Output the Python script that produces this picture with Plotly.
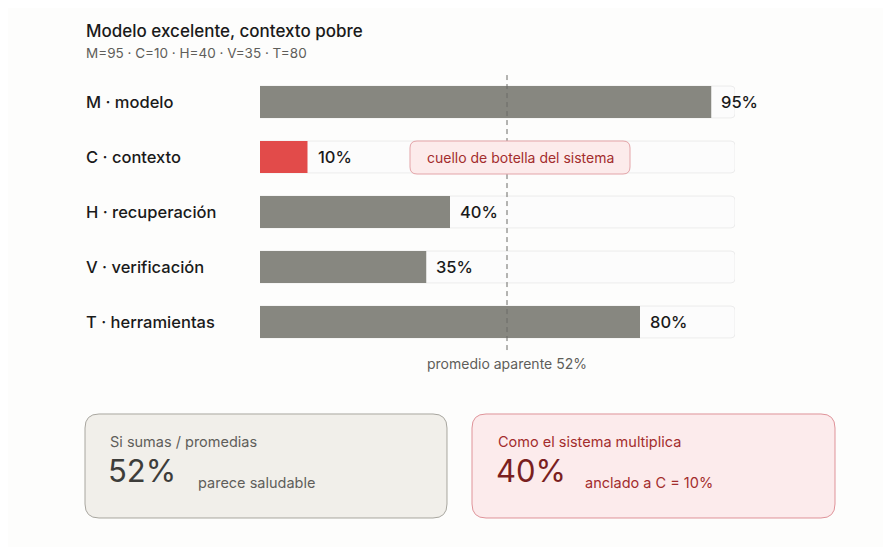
import plotly.graph_objects as go

# datos
labels = ["M · modelo", "C · contexto", "H · recuperación", "V · verificación", "T · herramientas"]
codes = ["M", "C", "H", "V", "T"]
values = [95, 10, 40, 35, 80]
bar_colors = ["#878780", "#e24b4a", "#878780", "#878780", "#878780"]
track_max = [100, 100, 100, 100, 100]

avg = sum(values) / len(values)  # 52
weakest = min(values)            # 10
multiplied = 40

OFF = 8                  # page body margin
W, H = 891 - 2 * OFF, 555 - 2 * OFF
L, R = 260 - OFF, 735 - OFF      # pixel extent of x axis (figure coords)
T, B = 47 - OFF, 377 - OFF       # pixel extent of y axis


def px_x(px):
    # px in screenshot coords -> paper
    return (px - OFF - L) / (R - L)


def px_y(py):
    return (B - (py - OFF)) / (B - T)


def rounded_rect(x0, y0, x1, y1, r):
    # pixel box -> svg path in paper coords
    def p(x, y):
        return f"{px_x(x):.5f},{px_y(y):.5f}"
    return (f"M{p(x0 + r, y0)} L{p(x1 - r, y0)} Q{p(x1, y0)} {p(x1, y0 + r)} "
            f"L{p(x1, y1 - r)} Q{p(x1, y1)} {p(x1 - r, y1)} "
            f"L{p(x0 + r, y1)} Q{p(x0, y1)} {p(x0, y1 - r)} "
            f"L{p(x0, y0 + r)} Q{p(x0, y0)} {p(x0 + r, y0)} Z")


FONT = "Inter, 'Open Sans', sans-serif"

fig = go.Figure()

# pistas de fondo
fig.add_trace(go.Bar(
    x=track_max, y=labels, orientation="h", width=0.58,
    marker=dict(color="#fcfcfc", line=dict(color="#ececec", width=1), cornerradius=4),
    hoverinfo="skip", showlegend=False
))

fig.add_trace(go.Bar(
    x=values, y=labels, orientation="h", width=0.58,
    marker=dict(color=bar_colors, line=dict(width=0), cornerradius=4),
    showlegend=False
))

fig.update_layout(
    width=W, height=H,
    barmode="overlay",
    margin=dict(l=L, r=W - R, t=T, b=H - B, pad=0),
    paper_bgcolor="#fdfdfc",
    plot_bgcolor="rgba(0,0,0,0)",
    font=dict(family=FONT, color="#1a1a1a"),
    xaxis=dict(range=[0, 100], visible=False, fixedrange=True),
    yaxis=dict(range=[5, -1], visible=False, fixedrange=True),
)

annotations = []

# titulo
annotations.append(dict(
    text="Modelo excelente, contexto pobre", xref="paper", yref="paper",
    x=px_x(84), y=px_y(31), xanchor="left", yanchor="middle", showarrow=False,
    font=dict(size=17, color="#1a1a1a", weight=500)
))
annotations.append(dict(
    text="·".join(f"{c}={v}" for c, v in zip(codes, values)).replace("·", " · "),
    xref="paper", yref="paper",
    x=px_x(84), y=px_y(53), xanchor="left", yanchor="middle", showarrow=False,
    font=dict(size=13.5, color="#5f5e5a")
))

# etiquetas de fila y valores
for i, (lab, v) in enumerate(zip(labels, values)):
    annotations.append(dict(
        text=lab, xref="paper", yref="y", x=px_x(84), y=i,
        xanchor="left", yanchor="middle", showarrow=False,
        font=dict(size=16.5, color="#1a1a1a", weight=500)
    ))
    annotations.append(dict(
        text=f"{v}%", xref="x", yref="y", x=v, y=i, xshift=8,
        xanchor="left", yanchor="middle", showarrow=False,
        font=dict(size=16.5, color="#1a1a1a", weight=500)
    ))

# linea promedio
fig.add_shape(type="line", xref="x", yref="y", x0=avg, x1=avg, y0=-0.49, y1=4.55,
              line=dict(color="#6b6b66", width=1, dash="5px,4px"))
annotations.append(dict(
    text=f"promedio aparente {avg:.0f}%", xref="x", yref="y", x=avg, y=4.76,
    xanchor="center", yanchor="middle", showarrow=False,
    font=dict(size=14, color="#5f5e5a")
))

# cuello de botella
fig.add_shape(type="path", xref="paper", yref="paper",
              path=rounded_rect(410, 141, 630, 174, 7),
              fillcolor="#fcebeb", line=dict(color="#e3a4a8", width=1), layer="above")
annotations.append(dict(
    text="cuello de botella del sistema", xref="paper", yref="paper",
    x=px_x(520), y=px_y(157.5), xanchor="center", yanchor="middle", showarrow=False,
    font=dict(size=14, color="#a32d2d")
))

# tarjetas inferiores
fig.add_shape(type="path", xref="paper", yref="paper",
              path=rounded_rect(85, 414, 447, 518, 14),
              fillcolor="#f1efea", line=dict(color="#a8a69f", width=1))
fig.add_shape(type="path", xref="paper", yref="paper",
              path=rounded_rect(472, 414, 835, 518, 14),
              fillcolor="#fcebec", line=dict(color="#df9399", width=1))

cards = [
    (108, 196, "Si sumas / promedias", f"{avg:.0f}%", "parece saludable",
     "#5f5e5a", "#3d3d3a"),
    (496, 583, "Como el sistema multiplica", f"{multiplied}%", f"anclado a C = {weakest}%",
     "#a32d2d", "#7a1f1f"),
]
for x0, xs, head, big, note, c1, c2 in cards:
    annotations.append(dict(
        text=head, xref="paper", yref="paper", x=px_x(x0), y=px_y(441),
        xanchor="left", yanchor="middle", showarrow=False, font=dict(size=14.5, color=c1)
    ))
    annotations.append(dict(
        text=big, xref="paper", yref="paper", x=px_x(x0 - 2), y=px_y(470),
        xanchor="left", yanchor="middle", showarrow=False, font=dict(size=31, color=c2)
    ))
    annotations.append(dict(
        text=note, xref="paper", yref="paper", x=px_x(xs), y=px_y(482),
        xanchor="left", yanchor="middle", showarrow=False, font=dict(size=14.5, color=c1)
    ))

fig.update_layout(annotations=annotations)

fig.write_html("out.html")
